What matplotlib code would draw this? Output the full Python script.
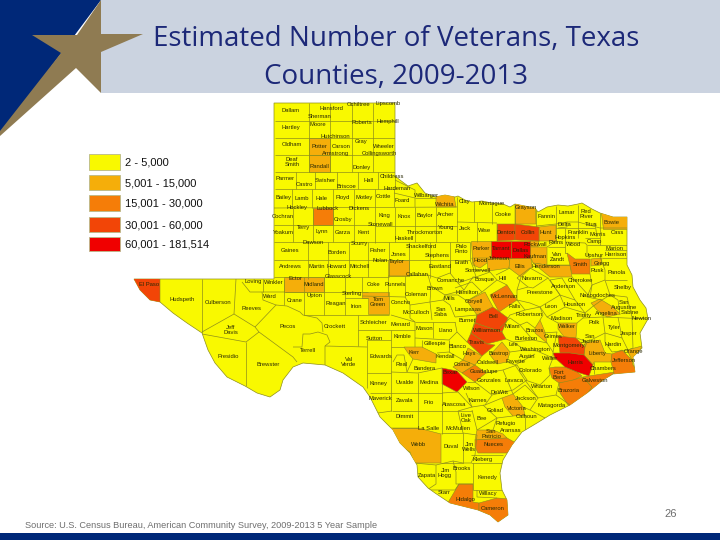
import matplotlib
matplotlib.use('Agg')
import matplotlib.pyplot as plt
from matplotlib.patches import Polygon, Rectangle

# chart text
title_lines = ["Estimated Number of Veterans, Texas", "Counties, 2009-2013"]
source_text = "Source: U.S. Census Bureau, American Community Survey, 2009-2013 5 Year Sample"
page_number = "26"
legend_labels = ["2 - 5,000", "5,001 - 15,000", "15,001 - 30,000", "30,001 - 60,000", "60,001 - 181,514"]

# counties per veteran class, anything not listed here is in the lowest class
class_5k_15k = ["Potter", "Randall", "Ector", "Midland", "Tom Green", "Taylor", "Wichita", "Grayson", "Hunt",
                "Rockwall", "Parker", "Hood", "Johnson", "Ellis", "Kaufman", "Henderson", "Bowie", "Gregg",
                "Coryell", "Kerr", "Comal", "Hays", "Bastrop", "Brazos", "Walker", "Angelina", "Liberty",
                "Orange", "Victoria", "San Patricio", "Webb"]
class_15k_30k = ["Lubbock", "Smith", "McLennan", "Guadalupe", "Fort Bend", "Brazoria", "Galveston", "Jefferson",
                 "Nueces", "Hidalgo", "Cameron"]
class_30k_60k = ["El Paso", "Denton", "Collin", "Bell", "Williamson", "Travis", "Montgomery"]
class_60k_up = ["Tarrant", "Dallas", "Bexar", "Harris"]

# colours
class_colors = ["#F9F900", "#F5AE0A", "#F57D08", "#F24507", "#F00000"]
line_color = "#8E8E1C"
navy = "#002878"
gold = "#8F7B52"
header_color = "#CBD3E0"

# map geometry in picture pixels
state_outline = [(275, 103), (395, 103), (395, 176), (400, 180), (408, 186), (417, 183), (425, 193), (435, 197),
                 (445, 195), (455, 197), (458, 196), (465, 200), (472, 202), (482, 201), (492, 203), (503, 204),
                 (510, 207), (515, 204), (525, 206), (535, 208), (538, 212), (547, 207), (558, 205), (568, 206),
                 (578, 204), (582, 203), (592, 209), (600, 213), (613, 217), (627, 217), (627, 265), (632, 275),
                 (633, 287), (640, 300), (646, 308), (648, 319), (640, 333), (642, 348), (633, 357), (635, 372),
                 (613, 374), (603, 380), (587, 393), (570, 405), (550, 415), (537, 423), (522, 432), (512, 445),
                 (503, 460), (500, 473), (502, 490), (507, 500), (508, 515), (498, 522), (490, 515), (478, 510),
                 (450, 503), (435, 493), (428, 488), (418, 477), (417, 465), (410, 453), (400, 443), (393, 430),
                 (380, 417), (370, 397), (363, 387), (343, 373), (325, 365), (303, 363), (293, 367), (283, 380),
                 (280, 390), (270, 397), (257, 393), (245, 386), (227, 377), (215, 363), (208, 350), (202, 333),
                 (187, 323), (173, 313), (160, 302), (150, 300), (140, 290), (134, 279), (274, 279), (274, 103)]

county_shapes = {
    "Potter": [(309, 138), (330, 138), (330, 155), (309, 155)],
    "Randall": [(309, 155), (330, 155), (330, 172), (309, 172)],
    "Lubbock": [(313, 208), (333, 208), (333, 225), (313, 225)],
    "Ector": [(284, 277), (304, 277), (304, 292), (284, 292)],
    "Midland": [(304, 277), (324, 277), (324, 292), (304, 292)],
    "Tom Green": [(362, 292), (389, 292), (389, 314), (368, 314), (368, 298), (362, 298)],
    "Taylor": [(388, 260), (409, 260), (409, 276), (388, 276)],
    "Wichita": [(436, 190), (453, 190), (456, 207), (436, 207)],
    "Grayson": [(515, 200), (535, 200), (536, 224), (515, 224)],
    "Hunt": [(539, 227), (556, 225), (556, 241), (539, 241)],
    "Rockwall": [(530, 241), (539, 241), (538, 247), (530, 247)],
    "Parker": [(471, 241), (491, 241), (491, 258), (472, 258)],
    "Hood": [(472, 258), (487, 258), (487, 263), (480, 268), (473, 265)],
    "Johnson": [(487, 258), (510, 258), (509, 268), (488, 271)],
    "Ellis": [(510, 258), (531, 258), (532, 267), (521, 277), (509, 268)],
    "Kaufman": [(530, 247), (547, 247), (547, 265), (533, 263), (531, 258)],
    "Henderson": [(533, 263), (547, 265), (570, 265), (572, 277), (550, 277), (544, 272)],
    "Denton": [(497, 224), (515, 224), (515, 240), (497, 241)],
    "Collin": [(515, 224), (539, 227), (539, 241), (515, 240)],
    "Tarrant": [(491, 241), (511, 241), (511, 258), (491, 258)],
    "Dallas": [(511, 241), (530, 241), (530, 258), (511, 258)],
    "Smith": [(567, 253), (575, 259), (590, 259), (590, 274), (572, 274)],
    "Gregg": [(591, 259), (602, 258), (601, 265), (591, 266)],
    "Bowie": [(600, 205), (630, 205), (630, 229), (603, 229)],
    "McLennan": [(490, 295), (507, 285), (517, 300), (499, 312)],
    "Coryell": [(467, 301), (485, 292), (493, 307), (477, 315)],
    "Bell": [(477, 315), (493, 307), (508, 318), (502, 332), (475, 323)],
    "Williamson": [(475, 323), (502, 332), (506, 339), (487, 344), (471, 333)],
    "Travis": [(471, 333), (487, 344), (495, 345), (482, 356), (467, 342)],
    "Hays": [(468, 348), (482, 356), (475, 365), (463, 360)],
    "Comal": [(463, 360), (475, 365), (462, 373), (453, 367)],
    "Guadalupe": [(462, 373), (475, 365), (486, 373), (475, 382)],
    "Bexar": [(442, 368), (457, 371), (467, 382), (457, 392), (442, 384)],
    "Bastrop": [(490, 355), (502, 342), (510, 352), (507, 362), (497, 364)],
    "Kerr": [(404, 347), (422, 347), (436, 354), (436, 363), (413, 359), (408, 353)],
    "Brazos": [(535, 328), (540, 320), (545, 332), (547, 343), (535, 333)],
    "Walker": [(558, 323), (577, 323), (576, 338), (565, 338), (558, 329)],
    "Montgomery": [(558, 336), (576, 338), (585, 347), (584, 355), (570, 353), (560, 353)],
    "Harris": [(553, 353), (570, 353), (584, 355), (593, 365), (589, 376), (577, 372), (565, 367), (555, 358)],
    "Liberty": [(585, 343), (600, 340), (605, 353), (612, 354), (611, 362), (594, 362), (593, 365), (584, 355)],
    "Angelina": [(591, 303), (600, 299), (613, 307), (620, 314), (607, 317), (597, 310)],
    "Orange": [(627, 350), (642, 346), (636, 358), (632, 360)],
    "Jefferson": [(612, 354), (622, 350), (632, 360), (633, 365), (640, 375), (615, 377), (611, 362)],
    "Galveston": [(583, 377), (589, 376), (615, 372), (603, 382), (586, 396), (592, 387)],
    "Brazoria": [(559, 383), (573, 380), (583, 377), (592, 387), (586, 396), (570, 408), (560, 393)],
    "Fort Bend": [(549, 368), (555, 367), (565, 367), (577, 372), (582, 376), (570, 382), (559, 383), (552, 378)],
    "Victoria": [(502, 398), (513, 394), (523, 407), (525, 415), (513, 416), (505, 407)],
    "San Patricio": [(477, 430), (493, 430), (503, 434), (507, 438), (475, 440)],
    "Nueces": [(475, 440), (507, 438), (516, 443), (507, 453), (478, 453), (475, 447)],
    "Webb": [(388, 428), (418, 428), (441, 434), (441, 463), (414, 463), (410, 452), (398, 445)],
    "Hidalgo": [(446, 506), (459, 484), (473, 484), (473, 502), (479, 503), (479, 514), (467, 513)],
    "Cameron": [(479, 503), (497, 498), (510, 499), (512, 515), (497, 525), (487, 516), (479, 514)],
    "El Paso": [(130, 275), (160, 279), (160, 304), (150, 304), (136, 292)],
}

# county borders that are not part of a coloured shape
border_lines = [
    # panhandle
    [(275, 121), (395, 121)], [(275, 138), (395, 138)], [(275, 155), (395, 155)], [(275, 172), (395, 172)],
    [(309, 103), (309, 172)], [(330, 103), (330, 172)], [(352, 103), (352, 172)], [(373, 103), (373, 172)],
    # south plains
    [(296, 172), (296, 189)], [(315, 172), (315, 189)], [(337, 172), (337, 189)], [(358, 172), (358, 189)],
    [(378, 172), (378, 189)], [(395, 172), (395, 189)], [(275, 189), (395, 189)], [(292, 189), (292, 208)],
    [(312, 189), (312, 208)], [(333, 189), (333, 208)], [(354, 189), (354, 208)], [(375, 189), (375, 243)],
    [(274, 208), (457, 207)], [(293, 208), (293, 242)], [(313, 208), (313, 242)], [(333, 208), (333, 242)],
    [(354, 208), (354, 242)], [(274, 225), (375, 225)], [(375, 226), (457, 226)], [(274, 242), (470, 242)],
    [(395, 207), (395, 242)], [(415, 207), (415, 242)], [(436, 207), (436, 242)], [(457, 197), (457, 242)],
    [(394, 189), (394, 207)], [(394, 193), (415, 198), (415, 207)], [(395, 180), (415, 190), (415, 198)],
    [(415, 198), (436, 198)],
    # west of the Colorado
    [(308, 242), (308, 279)], [(328, 242), (328, 277)], [(349, 242), (349, 277)], [(368, 242), (368, 277)],
    [(389, 242), (389, 276)], [(409, 242), (409, 276)], [(430, 242), (430, 278)], [(274, 260), (430, 260)],
    [(274, 277), (389, 277)], [(450, 242), (450, 273)], [(470, 242), (470, 260)], [(430, 260), (470, 260)],
    [(324, 277), (324, 315)], [(345, 277), (345, 315)], [(362, 277), (362, 292)], [(285, 292), (368, 292)],
    [(304, 292), (304, 315)], [(345, 298), (368, 298)], [(304, 315), (389, 315)],
    [(202, 279), (202, 333)], [(236, 279), (234, 314)], [(263, 279), (263, 292)], [(284, 279), (284, 305)],
    [(242, 282), (250, 292), (262, 292), (285, 292)], [(262, 292), (263, 300), (276, 305), (255, 327)],
    [(276, 305), (287, 306), (300, 312), (303, 315), (317, 318), (322, 323), (323, 332)],
    [(202, 332), (234, 314), (255, 327), (259, 332), (293, 357), (297, 362)],
    [(259, 332), (246, 342), (202, 334)], [(246, 342), (246, 386)],
    [(293, 347), (302, 347), (303, 334), (310, 334), (318, 332), (327, 335), (330, 342), (325, 346), (325, 365)],
    [(325, 346), (367, 347)], [(358, 315), (358, 346)], [(367, 340), (367, 388)], [(367, 340), (391, 340)],
    [(367, 373), (391, 373)], [(370, 393), (442, 393)], [(378, 413), (392, 411)], [(391, 330), (391, 411)],
    [(392, 411), (472, 411)], [(418, 373), (418, 428)], [(392, 428), (418, 428)], [(442, 368), (442, 434)],
    [(358, 330), (415, 330)], [(391, 315), (415, 322)],
    # hill country
    [(388, 276), (406, 276), (428, 275)], [(388, 276), (388, 296)], [(362, 296), (405, 297)], [(405, 276), (405, 297)],
    [(405, 297), (410, 305), (410, 318), (415, 322), (415, 347)], [(410, 305), (430, 302), (443, 300), (450, 305)],
    [(428, 275), (431, 286), (430, 302), (432, 320)], [(415, 322), (455, 322)], [(433, 322), (433, 338)],
    [(443, 300), (445, 295), (431, 286)], [(415, 338), (449, 340)], [(422, 340), (422, 347)], [(449, 340), (449, 352)],
    [(437, 353), (449, 352), (463, 360)], [(455, 317), (450, 305)], [(455, 317), (477, 315)],
    [(455, 322), (457, 332), (449, 340)], [(457, 332), (467, 342)], [(471, 333), (477, 315)],
    [(391, 347), (404, 347)], [(393, 362), (397, 355), (404, 355), (407, 372)], [(391, 372), (418, 373), (442, 368)],
    [(413, 359), (407, 372)], [(442, 393), (458, 392), (472, 407), (458, 411)],
    [(437, 278), (450, 273), (458, 283), (464, 290), (445, 295)], [(428, 275), (437, 278)],
    [(450, 273), (450, 260)], [(470, 260), (473, 267), (476, 277), (458, 283)], [(464, 290), (473, 277), (476, 277)],
    [(455, 288), (472, 282), (482, 292), (467, 301)], [(445, 295), (458, 295), (467, 301)],
    [(476, 277), (490, 272), (497, 280), (482, 292)], [(496, 275), (510, 268)], [(497, 280), (507, 285)],
    [(521, 277), (517, 290), (517, 300)], [(476, 270), (488, 271)], [(472, 258), (476, 270)],
    # north texas
    [(457, 222), (497, 223)], [(474, 198), (474, 222)], [(492, 203), (492, 224)], [(477, 222), (477, 242)],
    [(497, 224), (497, 241)], [(515, 204), (515, 224)], [(536, 210), (536, 227)], [(556, 206), (556, 241)],
    [(536, 226), (556, 224), (567, 222), (578, 222), (600, 228), (627, 228)], [(578, 205), (578, 238)],
    [(600, 213), (600, 245)], [(558, 228), (567, 227), (567, 222)], [(556, 228), (595, 228)],
    [(595, 223), (597, 237)], [(556, 241), (547, 247)], [(565, 242), (585, 243), (587, 245), (587, 256)],
    [(585, 238), (600, 238)], [(587, 245), (627, 245)], [(565, 228), (565, 253), (567, 253)], [(548, 247), (565, 247)],
    [(605, 250), (627, 250)], [(602, 258), (627, 258)], [(600, 257), (605, 270), (605, 280)], [(605, 280), (627, 280)],
    [(590, 274), (592, 285), (605, 280)], [(592, 285), (587, 297), (602, 300), (610, 295), (605, 280)],
    [(610, 295), (627, 297)], [(547, 265), (570, 265)],
    # east texas
    [(550, 280), (562, 278), (575, 300), (560, 295), (550, 280)], [(572, 277), (590, 297), (592, 285)],
    [(517, 278), (530, 268), (548, 278), (533, 288), (528, 287), (517, 278)], [(517, 290), (528, 287)],
    [(548, 278), (560, 295), (540, 307), (530, 303), (517, 300)], [(517, 300), (525, 310), (510, 315), (508, 318)],
    [(525, 310), (540, 307), (543, 315), (540, 320)], [(540, 307), (547, 317), (565, 307), (560, 295)],
    [(575, 300), (585, 313), (565, 307)], [(547, 317), (558, 323)], [(585, 313), (592, 307), (602, 300)],
    [(577, 323), (583, 318), (603, 317), (605, 333), (587, 342), (577, 338)], [(585, 313), (583, 318)],
    [(603, 317), (648, 319)], [(605, 333), (622, 338), (618, 317)], [(622, 338), (628, 350), (633, 348), (632, 317)],
    [(628, 350), (612, 352)], [(605, 333), (605, 342), (612, 352)], [(618, 300), (620, 315)], [(627, 297), (632, 317)],
    [(610, 295), (618, 300)], [(587, 342), (585, 347)], [(594, 362), (594, 374)],
    [(543, 333), (557, 332), (553, 352)], [(547, 343), (553, 352)], [(553, 352), (553, 358), (549, 368)],
    # central and coast
    [(500, 328), (510, 318), (520, 325), (533, 340), (513, 342), (506, 339)], [(520, 325), (527, 322), (535, 328)],
    [(533, 340), (547, 343)], [(513, 342), (525, 350), (510, 352)], [(525, 350), (537, 351), (553, 358)],
    [(507, 362), (515, 365), (535, 354)], [(515, 365), (525, 380), (540, 385), (550, 375), (549, 368)],
    [(503, 370), (517, 365), (527, 380), (513, 390)], [(486, 373), (503, 370), (513, 394)],
    [(475, 382), (492, 395), (513, 390)], [(467, 382), (475, 382)], [(466, 393), (472, 407), (485, 405), (492, 395)],
    [(485, 405), (502, 398)], [(483, 405), (497, 418), (513, 416)], [(513, 394), (525, 385), (538, 398), (530, 410), (523, 407)],
    [(538, 398), (556, 395), (559, 383)], [(525, 380), (538, 398)], [(556, 395), (570, 405)], [(530, 410), (545, 418)],
    [(525, 415), (525, 430)], [(497, 418), (493, 430)], [(472, 410), (477, 430)], [(497, 418), (477, 430)],
    [(458, 411), (463, 433), (477, 435)], [(441, 433), (463, 433), (463, 463), (441, 463)], [(477, 435), (475, 455), (471, 463), (463, 463)],
    [(471, 455), (503, 455)], [(471, 463), (502, 463)], [(473, 463), (473, 490)], [(473, 490), (504, 490)],
    [(477, 490), (477, 497), (497, 498)], [(453, 461), (463, 463)], [(436, 465), (453, 461), (456, 472), (456, 484), (473, 484)],
    [(414, 463), (436, 465), (436, 484), (427, 490)], [(427, 490), (455, 490), (459, 484)],
]

# label positions in picture pixels, same traced source as the borders
label_xy = {
    "Dallam": (291, 111), "Hansford": (331, 108), "Ochiltree": (359, 105), "Lipscomb": (388, 104), "Sherman": (320, 116),
    "Hemphill": (388, 122), "Hartley": (291, 128), "Moore": (318, 125), "Roberts": (362, 123), "Hutchinson": (335, 136),
    "Gray": (361, 141), "Oldham": (292, 145), "Potter": (319, 146), "Carson": (341, 146), "Wheeler": (384, 146),
    "Armstrong": (336, 154), "Collingsworth": (379, 154), "Deaf\nSmith": (292, 162), "Randall": (319, 166),
    "Donley": (362, 168), "Parmer": (285, 179), "Swisher": (325, 180), "Castro": (304, 185), "Briscoe": (346, 186),
    "Hall": (368, 180), "Childress": (392, 177), "Hardeman": (397, 188), "Foard": (402, 201), "Wilbarger": (427, 195),
    "Wichita": (445, 204), "Clay": (465, 202), "Montague": (492, 204), "Cooke": (503, 215), "Grayson": (526, 207),
    "Bailey": (283, 198), "Lamb": (302, 198), "Hale": (322, 198), "Floyd": (343, 198), "Motley": (364, 198),
    "Cottle": (383, 197), "Hockley": (297, 208), "Lubbock": (328, 209), "Dickens": (359, 208), "Cochran": (283, 216),
    "Crosby": (343, 219), "King": (384, 216), "Knox": (404, 216), "Baylor": (425, 215), "Archer": (446, 215),
    "Stonewall": (380, 225), "Terry": (304, 228), "Yoakum": (283, 233), "Lynn": (322, 232), "Garza": (343, 233),
    "Kent": (364, 233), "Dawson": (313, 242), "Scurry": (359, 244), "Gaines": (290, 250), "Borden": (337, 253),
    "Fisher": (378, 250), "Jones": (399, 254), "Shackelford": (421, 247), "Haskell": (404, 239), "Throckmorton": (425, 233),
    "Young": (446, 228), "Jack": (465, 228), "Wise": (485, 230), "Denton": (506, 232), "Collin": (528, 232),
    "Hunt": (546, 233), "Fannin": (547, 217), "Lamar": (567, 213), "Red\nRiver": (586, 214), "Bowie": (612, 222),
    "Delta": (564, 225), "Titus": (591, 225), "Franklin": (578, 232), "Morris": (598, 234), "Cass": (617, 232),
    "Hopkins": (565, 238), "Camp": (594, 242), "Wood": (574, 245), "Rains": (556, 243), "Rockwall": (535, 244),
    "Parker": (481, 248), "Tarrant": (501, 248), "Dallas": (521, 250), "Palo\nPinto": (461, 249), "Stephens": (437, 256),
    "Eastland": (440, 266), "Erath": (462, 262), "Hood": (480, 260), "Johnson": (499, 259), "Somervell": (478, 270),
    "Kaufman": (535, 257), "Van\nZandt": (557, 257), "Upshur": (594, 255), "Marion": (614, 248), "Harrison": (616, 255),
    "Gregg": (602, 264), "Smith": (580, 264), "Rusk": (597, 271), "Panola": (617, 273), "Ellis": (520, 266),
    "Henderson": (546, 266), "Navarro": (532, 278), "Hill": (503, 278), "Bosque": (484, 280), "Cherokee": (580, 280),
    "Anderson": (564, 287), "Shelby": (623, 287), "Nacogdoches": (598, 296), "Freestone": (540, 293), "Comanche": (451, 281),
    "Brown": (435, 288), "Hamilton": (467, 292), "Callahan": (417, 274), "Taylor": (397, 261), "Nolan": (380, 261),
    "Runnels": (395, 284), "Coke": (374, 284), "Coleman": (416, 295), "Mills": (449, 299), "Coryell": (474, 302),
    "McLennan": (504, 297), "Concho": (401, 302), "McCulloch": (416, 312), "San\nSaba": (441, 312), "Lampasas": (468, 310),
    "Falls": (515, 306), "Leon": (551, 307), "Houston": (574, 304), "Robertson": (529, 315), "Madison": (562, 318),
    "Walker": (567, 326), "Trinity": (584, 315), "Polk": (594, 322), "Angelina": (606, 313), "San\nAugustine": (624, 305),
    "Sabine": (630, 313), "Newton": (641, 319), "Tyler": (614, 327), "Jasper": (629, 333), "Hardin": (613, 344),
    "San\nJacinto": (590, 339), "Liberty": (597, 354), "Orange": (633, 351), "Jefferson": (624, 360), "Chambers": (603, 369),
    "Galveston": (595, 381), "Harris": (575, 363), "Montgomery": (569, 346), "Waller": (550, 359), "Grimes": (553, 336),
    "Brazos": (535, 330), "Burleson": (526, 338), "Milam": (512, 327), "Bell": (493, 316), "Williamson": (487, 330),
    "Travis": (477, 343), "Lee": (513, 345), "Washington": (535, 349), "Austin": (527, 356), "Bastrop": (499, 353),
    "Fayette": (515, 362), "Colorado": (531, 371), "Fort\nBend": (559, 375), "Brazoria": (569, 390), "Wharton": (542, 386),
    "Matagorda": (552, 405), "Jackson": (526, 398), "Lavaca": (514, 381), "Gonzales": (489, 381), "Caldwell": (488, 363),
    "Hays": (469, 354), "Guadalupe": (484, 371), "Comal": (462, 365), "Blanco": (457, 347), "Burnet": (467, 321),
    "Llano": (446, 330), "Mason": (424, 329), "Gillespie": (435, 344), "Kendall": (445, 357), "Kerr": (414, 353),
    "Bandera": (425, 368), "Medina": (429, 382), "Bexar": (450, 373), "Wilson": (472, 388), "Karnes": (478, 400),
    "DeWitt": (499, 392), "Victoria": (517, 408), "Calhoun": (527, 416), "Goliad": (495, 410), "Refugio": (506, 423),
    "Aransas": (511, 431), "Bee": (482, 419), "Live\nOak": (466, 418), "Atascosa": (454, 404), "Frio": (429, 402),
    "Zavala": (405, 400), "Dimmit": (405, 417), "La Salle": (429, 429), "McMullen": (458, 429), "San\nPatricio": (491, 434),
    "Nueces": (493, 445), "Duval": (451, 447), "Jim\nWells": (469, 447), "Webb": (419, 444), "Kleberg": (483, 459),
    "Brooks": (462, 468), "Jim\nHogg": (445, 473), "Zapata": (427, 475), "Kenedy": (487, 477), "Starr": (444, 492),
    "Willacy": (488, 493), "Hidalgo": (465, 499), "Cameron": (493, 508), "Andrews": (290, 267), "Martin": (317, 267),
    "Howard": (337, 267), "Mitchell": (359, 267), "Glasscock": (338, 276), "Loving": (253, 282), "Winkler": (274, 282),
    "Ector": (295, 279), "Midland": (314, 284), "Sterling": (352, 293), "Ward": (270, 297), "Crane": (295, 300),
    "Upton": (314, 296), "Reagan": (336, 303), "Irion": (356, 306), "Tom\nGreen": (378, 302), "Schleicher": (373, 322),
    "Menard": (400, 324), "Sutton": (374, 339), "Kimble": (402, 337), "Crockett": (335, 326), "Pecos": (288, 327),
    "Terrell": (308, 351), "Val\nVerde": (349, 362), "Edwards": (381, 356), "Real": (401, 364), "Kinney": (378, 383),
    "Uvalde": (405, 382), "Maverick": (380, 398), "Reeves": (252, 309), "Jeff\nDavis": (231, 330), "Culberson": (218, 302),
    "Hudspeth": (182, 299), "El Paso": (149, 284), "Presidio": (228, 357), "Brewster": (268, 365),
}

fig = plt.figure(figsize=(7.2, 5.4), dpi=100)
ax = fig.add_axes([0, 0, 1, 1])
ax.set_xlim(0, 720)
ax.set_ylim(540, 0)
ax.axis('off')

# slide furniture
ax.add_patch(Rectangle((101, 0), 619, 93, color=header_color, lw=0))
ax.add_patch(Polygon([(0, 0), (101, 0), (0, 135)], color=navy, lw=0))
ax.add_patch(Polygon([(101, 0), (101, 34), (143, 34), (101, 52), (101, 93), (76, 68), (0, 136), (0, 131),
                      (61, 53), (32, 35), (77, 35)], color=gold, lw=0))
ax.add_patch(Rectangle((0, 533), 720, 7, color=navy, lw=0))
ax.text(396, 39, title_lines[0], fontsize=19.95, color="#1C2878", family="Open Sans", ha='center', va='center')
ax.text(396, 77, title_lines[1], fontsize=19.95, color="#1C2878", family="Open Sans", ha='center', va='center')
ax.text(25, 525, source_text, fontsize=6.55, color="#6E6E6E", family="Liberation Sans", ha='left', va='center')
ax.text(671, 514, page_number, fontsize=8, color="#6E6E6E", family="Liberation Sans", ha='center', va='center')

# map, state first then coloured counties clipped to it
state = Polygon(state_outline, facecolor=class_colors[0], edgecolor=line_color, lw=0.5, zorder=2)
ax.add_patch(state)
class_lists = [class_5k_15k, class_15k_30k, class_30k_60k, class_60k_up]
for i in range(len(class_lists)):
    for name in class_lists[i]:
        p = Polygon(county_shapes[name], facecolor=class_colors[i + 1], edgecolor=line_color, lw=0.4, zorder=3)
        ax.add_patch(p)
        p.set_clip_path(state)

for line in border_lines:
    xs = [pt[0] for pt in line]
    ys = [pt[1] for pt in line]
    l, = ax.plot(xs, ys, color=line_color, lw=0.5, zorder=4, solid_capstyle='butt')
    l.set_clip_path(state)

for name in label_xy:
    x, y = label_xy[name]
    ax.text(x, y, name, fontsize=4.2, color="#2A2A05", family="Liberation Sans", ha='center', va='center',
            linespacing=0.95, zorder=5)

# legend
swatch_top = [154, 175, 195, 217, 237]
swatch_height = [16, 15, 16, 15, 14]
for i in range(len(legend_labels)):
    ax.add_patch(Rectangle((89, swatch_top[i]), 31, swatch_height[i], facecolor=class_colors[i],
                           edgecolor="#B9B98A", lw=0.6))
    ax.text(125, swatch_top[i] + swatch_height[i] / 2 + 0.5, legend_labels[i], fontsize=8, color="#111111",
            family="Liberation Sans", ha='left', va='center')

fig.savefig('out.png', dpi=100)
